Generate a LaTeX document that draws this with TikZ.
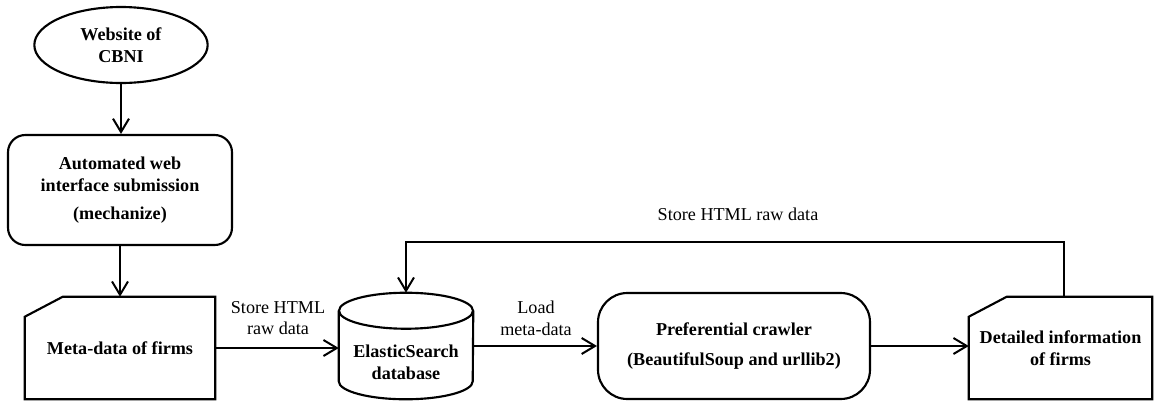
\documentclass[tikz,border=0pt]{standalone}
\usepackage{fontspec}
\setmainfont{Liberation Serif}
\usetikzlibrary{arrows.meta,shapes.geometric,calc}
\begin{document}
\begin{tikzpicture}[x=0.75pt,y=-0.75pt,
  every node/.style={font=\fontsize{13.6pt}{16.2pt}\selectfont, align=center, inner sep=0pt},
  boldtext/.style={font=\fontsize{13.6pt}{16.2pt}\selectfont\bfseries},
  outline/.style={line width=1.6pt},
  flow/.style={line width=1.5pt,-{Straight Barb[length=10pt,width=12pt,line width=1.5pt]}},
  startnode/.style={ellipse, draw, line width=1.6pt, minimum width=130pt, minimum height=57pt, boldtext},
  procbox/.style={rectangle, draw, line width=1.6pt, rounded corners=13pt, boldtext},
  card/.style={rectangle, boldtext},
  edgetext/.style={font=\fontsize{13.6pt}{16.2pt}\selectfont}
]
\useasboundingbox (0,0) rectangle (1154,401);

% source and acquisition step
\node[startnode] (web) at (121,45) {Website of\\CBNI};
\node[procbox, minimum width=168pt, minimum height=82.5pt] (auto) at (120,190)
  {Automated web\\interface submission\\[5pt](mechanize)};

% meta-data card with clipped corner
\node[card, minimum width=142.5pt, minimum height=76.5pt] (meta) at (120,348) {Meta-data of firms};
\draw[outline] ($(meta.north west)+(0,20)$) -- ($(meta.north west)+(38,0)$)
  -- (meta.north east) -- (meta.south east) -- (meta.south west) -- cycle;

% ElasticSearch database cylinder
\node[card, minimum width=100.5pt, minimum height=79.5pt] (db) at (406,346) {};
\draw[outline] ($(db.north)+(0,18)$) ellipse [x radius=50.25pt, y radius=13.5pt];
\draw[outline] ($(db.north west)+(0,18)$) -- ($(db.south west)+(0,-18)$)
  arc[start angle=180, end angle=360, x radius=50.25pt, y radius=13.5pt]
  -- ($(db.north east)+(0,18)$);
\node[boldtext] (dbtext) at (406,362) {ElasticSearch\\database};

% crawler
\node[procbox, rounded corners=22pt, minimum width=204pt, minimum height=79.5pt] (crawl) at (734,346)
  {Preferential crawler\\[6pt](BeautifulSoup and urllib2)};

% detailed information card
\node[card, minimum width=137.25pt, minimum height=76.5pt] (detail) at (1060.5,348)
  {Detailed information\\of firms};
\draw[outline] ($(detail.north west)+(0,20)$) -- ($(detail.north west)+(38,0)$)
  -- (detail.north east) -- (detail.south east) -- (detail.south west) -- cycle;

% connectors
\draw[flow] (web.south) -- (web.south |- auto.north);
\draw[flow] (auto.south) -- (meta.north);
\draw[flow] (meta.east) -- (meta.east -| db.west);
\node[edgetext] (store1) at (278,318) {Store HTML\\raw data};
\draw[flow] (db.east) -- (db.east -| crawl.west);
\node[edgetext] (load) at (536,318) {Load\\meta-data};
\draw[flow] (crawl.east) -- (crawl.east -| detail.west);

\coordinate (fbR) at (1064,242);
\coordinate (fbL) at (406,242);
\draw[flow] (detail.north -| fbR) -- (fbR) -- (fbL) -- (db.north);
\node[edgetext] (store2) at (738,214) {Store HTML raw data};
\end{tikzpicture}
\end{document}
